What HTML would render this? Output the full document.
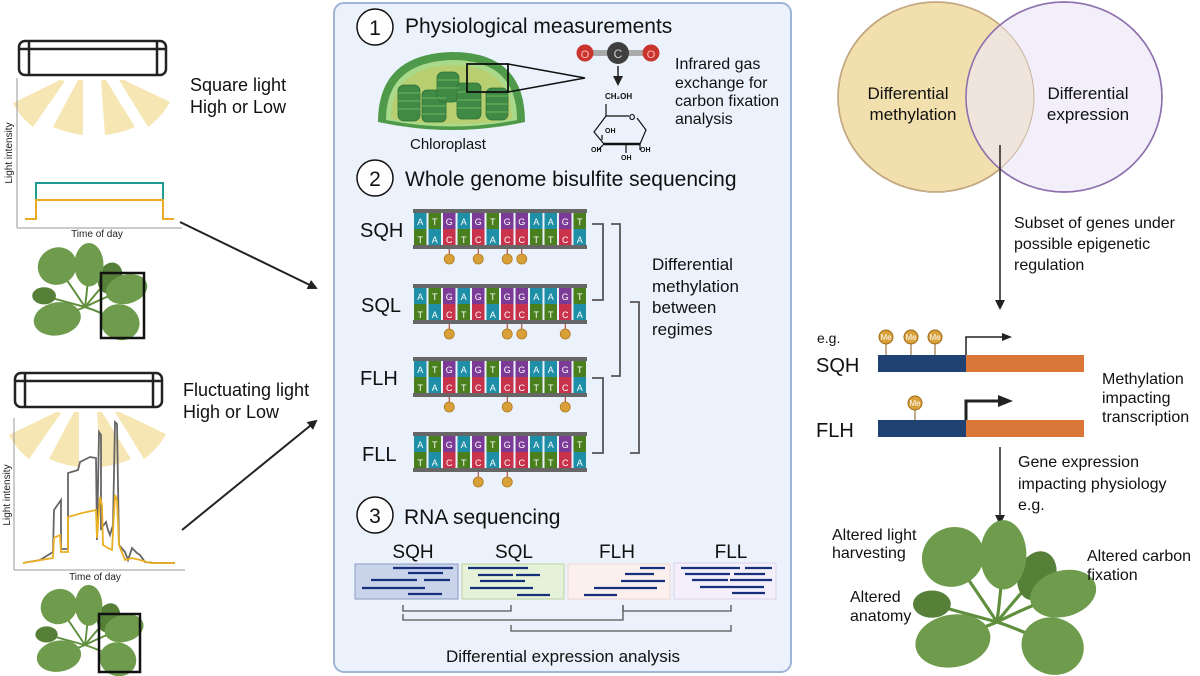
<!DOCTYPE html>
<html><head><meta charset="utf-8"><style>
html,body{margin:0;padding:0;background:#fff;}
svg{display:block;font-family:"Liberation Sans",sans-serif;}
</style></head><body>
<svg width="1200" height="676" viewBox="0 0 1200 676" xmlns="http://www.w3.org/2000/svg">
<defs>
<marker id="ah" markerWidth="10" markerHeight="10" refX="8" refY="5" orient="auto" markerUnits="userSpaceOnUse"><path d="M0,0 L10,5 L0,10 Z" fill="#222"/></marker>
<g id="plant">
 <g stroke="#5f8f3c" stroke-width="3" fill="none">
  <path d="M0,0 Q-20,-30 -42,-62"/><path d="M0,0 Q4,-30 6,-64"/><path d="M0,0 Q20,-25 38,-44"/>
  <path d="M0,0 Q30,-15 63,-27"/><path d="M0,0 Q-30,-8 -62,-17"/><path d="M0,0 Q-20,8 -42,18"/><path d="M0,0 Q25,8 53,23"/>
 </g>
 <ellipse cx="-42" cy="-62" rx="30" ry="28" transform="rotate(-30 -42 -62)" fill="#6e9c4c"/>
 <ellipse cx="38" cy="-44" rx="18" ry="24" transform="rotate(20 38 -44)" fill="#567f38"/>
 <ellipse cx="6" cy="-64" rx="22" ry="33" fill="#6e9c4c"/>
 <ellipse cx="63" cy="-27" rx="32" ry="22" transform="rotate(-15 63 -27)" fill="#6e9c4c"/>
 <ellipse cx="-62" cy="-17" rx="18" ry="13" fill="#567f38"/>
 <ellipse cx="-42" cy="18" rx="36" ry="25" transform="rotate(-10 -42 18)" fill="#6e9c4c"/>
 <ellipse cx="53" cy="23" rx="30" ry="27" transform="rotate(20 53 23)" fill="#6e9c4c"/>
</g>
<g id="rays" fill="#f5e2a6" opacity="0.85">
 <path d="M60,80 L65,81 L33,127 Q20,117 13,103 Z"/>
 <path d="M78,80 L83,80 L83,135 Q67,133 53,127 Z"/>
 <path d="M101,80 L106,80 L135,127 Q121,133 105,135 Z"/>
 <path d="M119,80 L124,80 L170,102 Q162,117 148,127 Z"/>
</g>
</defs>

<!-- LEFT TOP -->
<g stroke="#222" stroke-width="2.5" fill="none">
 <rect x="19" y="41" width="147" height="34" rx="6"/>
 <line x1="29" y1="41" x2="29" y2="75"/><line x1="157" y1="41" x2="157" y2="75"/>
 <line x1="19" y1="49" x2="166" y2="49"/>
</g>
<use href="#rays"/>
<g stroke="#999" stroke-width="1" fill="none"><line x1="17" y1="78" x2="17" y2="228"/><line x1="17" y1="228" x2="182" y2="228"/></g>
<path d="M36,200 L36,183 L163,183 L163,200" stroke="#1e9a92" stroke-width="2" fill="none"/>
<path d="M25,219 L36,219 L36,200 L163,200 L163,219 L174,219" stroke="#eaaa24" stroke-width="2" fill="none"/>
<text transform="translate(12,153) rotate(-90)" font-size="10" text-anchor="middle" fill="#222">Light intensity</text>
<text x="97" y="237" font-size="10" text-anchor="middle" fill="#222">Time of day</text>
<use href="#plant" transform="translate(85,307) scale(0.66)"/>
<rect x="101" y="273" width="43" height="65" fill="none" stroke="#111" stroke-width="2.5"/>
<text x="190" y="91" font-size="18" fill="#111">Square light</text>
<text x="190" y="113" font-size="18" fill="#111">High or Low</text>
<line x1="180" y1="222" x2="316" y2="288" stroke="#222" stroke-width="2" marker-end="url(#ah)"/>

<!-- LEFT BOTTOM -->
<g stroke="#222" stroke-width="2.5" fill="none">
 <rect x="15" y="373" width="147" height="34" rx="6"/>
 <line x1="25" y1="373" x2="25" y2="407"/><line x1="153" y1="373" x2="153" y2="407"/>
 <line x1="15" y1="381" x2="162" y2="381"/>
</g>
<use href="#rays" transform="translate(-4,332)"/>
<g stroke="#999" stroke-width="1" fill="none"><line x1="14" y1="418" x2="14" y2="570"/><line x1="14" y1="570" x2="185" y2="570"/></g>
<polyline fill="none" stroke="#666" stroke-width="1.8" points="23,563 40,560 53,552 54,510 61,500 61,549 68,549 68,473 78,470 80,462 90,457 96,458 97,540 99,432 101,435 101,530 103,526 106,522 108,530 110,535 113,525 115,422 117,424 119,545 125,552 128,560 132,548 137,553 140,555 145,562 155,563 175,563"/>
<polyline fill="none" stroke="#eab021" stroke-width="1.8" points="23,563 53,558 54,538 60,535 61,552 68,552 68,517 82,513 96,510 97,538 100,497 102,505 103,545 108,548 112,550 115,495 117,500 119,545 125,560 132,558 140,560 150,563 175,563"/>
<text transform="translate(10,495) rotate(-90)" font-size="10" text-anchor="middle" fill="#222">Light intensity</text>
<text x="95" y="580" font-size="10" text-anchor="middle" fill="#222">Time of day</text>
<use href="#plant" transform="translate(85,645) scale(0.62)"/>
<rect x="99" y="614" width="41" height="58" fill="none" stroke="#111" stroke-width="2.5"/>
<text x="183" y="396" font-size="18" fill="#111">Fluctuating  light</text>
<text x="183" y="418" font-size="18" fill="#111">High or Low</text>
<line x1="182" y1="530" x2="316" y2="421" stroke="#222" stroke-width="2" marker-end="url(#ah)"/>

<!-- CENTER PANEL -->
<rect x="334" y="3" width="457" height="669" rx="10" fill="#ebf2fb" stroke="#9fb5d8" stroke-width="2"/>
<circle cx="375" cy="27" r="18" fill="#fff" stroke="#111" stroke-width="1.5"/>
<text x="375" y="35" font-size="21" text-anchor="middle" fill="#111">1</text>
<text x="405" y="33" font-size="21" fill="#111">Physiological measurements</text>
<path d="M378,122 Q378,54 452,52 Q525,52 525,122 Q452,138 378,122Z" fill="#4e9a4a"/>
<path d="M386,120 Q386,62 452,60 Q517,60 517,120 Q452,133 386,120Z" fill="#a9d98a"/>
<path d="M391,119 Q391,67 452,65 Q512,65 512,119 Q452,129 391,119Z" fill="#b7cf71"/>
<g fill="#3f8a45" stroke="#2f6d36" stroke-width="0.8">
 <rect x="398" y="85" width="22" height="36" rx="6"/>
 <rect x="422" y="90" width="24" height="32" rx="5"/>
 <rect x="437" y="72" width="22" height="30" rx="6"/>
 <rect x="457" y="83" width="24" height="36" rx="5"/>
 <rect x="486" y="88" width="22" height="32" rx="6"/>
</g>
<g stroke="#6fb55f" stroke-width="1">
 <line x1="398" y1="93" x2="420" y2="93"/><line x1="398" y1="101" x2="420" y2="101"/><line x1="398" y1="109" x2="420" y2="109"/>
 <line x1="422" y1="98" x2="446" y2="98"/><line x1="422" y1="106" x2="446" y2="106"/><line x1="422" y1="114" x2="446" y2="114"/>
 <line x1="457" y1="92" x2="481" y2="92"/><line x1="457" y1="100" x2="481" y2="100"/><line x1="457" y1="108" x2="481" y2="108"/>
 <line x1="486" y1="96" x2="508" y2="96"/><line x1="486" y1="104" x2="508" y2="104"/><line x1="486" y1="112" x2="508" y2="112"/>
 <line x1="437" y1="80" x2="459" y2="80"/><line x1="437" y1="88" x2="459" y2="88"/>
</g>
<rect x="467" y="64" width="41" height="28" fill="none" stroke="#111" stroke-width="1.8"/>
<path d="M508,64 L585,78 L508,92" fill="none" stroke="#111" stroke-width="1.5"/>
<text x="410" y="149" font-size="15" fill="#111">Chloroplast</text>
<rect x="585" y="50" width="66" height="6" fill="#aaa"/>
<circle cx="585" cy="53" r="8.5" fill="#c9342d"/><circle cx="651" cy="53" r="8.5" fill="#c9342d"/>
<circle cx="618" cy="53" r="11" fill="#3f3f3f"/>
<text x="585" y="58" font-size="11" text-anchor="middle" fill="#fbb">O</text>
<text x="651" y="58" font-size="11" text-anchor="middle" fill="#fbb">O</text>
<text x="618" y="58" font-size="12" text-anchor="middle" fill="#ccc">C</text>
<line x1="618" y1="66" x2="618" y2="84" stroke="#222" stroke-width="1.5" marker-end="url(#ah)"/>
<text x="605" y="99" font-size="8" font-weight="bold" fill="#111">CH₂OH</text>
<path d="M606,104 L606,116 L629,116 M637,118 L646,130 L640,144 L604,144 L594,132 L606,116 M604,144 L598,150 M640,144 L640,150 M626,144 L626,153 M602,135 L602,140" fill="none" stroke="#111" stroke-width="1.2"/>
<line x1="604" y1="144" x2="640" y2="144" stroke="#111" stroke-width="2.5"/>
<text x="629" y="120" font-size="8" font-weight="bold" fill="#111">O</text>
<text x="605" y="133" font-size="7" font-weight="bold" fill="#111">OH</text>
<text x="591" y="152" font-size="7" font-weight="bold" fill="#111">OH</text>
<text x="640" y="152" font-size="7" font-weight="bold" fill="#111">OH</text>
<text x="621" y="160" font-size="7" font-weight="bold" fill="#111">OH</text>
<g font-size="16" fill="#111"><text x="675" y="69">Infrared gas</text><text x="675" y="88">exchange for</text><text x="675" y="106">carbon fixation</text><text x="675" y="124">analysis</text></g>

<circle cx="375" cy="178" r="18" fill="#fff" stroke="#111" stroke-width="1.5"/>
<text x="375" y="186" font-size="21" text-anchor="middle" fill="#111">2</text>
<text x="405" y="186" font-size="21" fill="#111">Whole genome bisulfite sequencing</text>
<g id="dnaall"></g>
<script>
(function(){
var ns="http://www.w3.org/2000/svg",root=document.getElementById("dnaall");
var top="ATGAGTGGAAGT",bot="TACTCACCTTCA",col={A:"#1f8fa8",T:"#4a7f1e",G:"#7b3a96",C:"#c8324a"};
var rows=[[210,[2,4,6,7]],[285,[2,6,7,10]],[358,[2,6,10]],[433,[4,6]]];
function el(t,a){var e=document.createElementNS(ns,t);for(var k in a)e.setAttribute(k,a[k]);root.appendChild(e);return e;}
rows.forEach(function(r){var y=r[0];
 for(var i=0;i<12;i++){var x=413+i*14.5+1;
  el("rect",{x:x,y:y+3,width:12.5,height:16,fill:col[top[i]]});
  el("rect",{x:x,y:y+19,width:12.5,height:16,fill:col[bot[i]]});
  var t=el("text",{x:x+6.25,y:y+15,"font-size":9,"text-anchor":"middle",fill:"#fff"});t.textContent=top[i];
  var b=el("text",{x:x+6.25,y:y+33,"font-size":9,"text-anchor":"middle",fill:"#fff"});b.textContent=bot[i];}
 el("rect",{x:413,y:y-1,width:174,height:4,fill:"#666"});
 el("rect",{x:413,y:y+35,width:174,height:4,fill:"#666"});
 r[1].forEach(function(i){var cx=413+i*14.5+7.25;
  el("line",{x1:cx,y1:y+39,x2:cx,y2:y+44,stroke:"#a03020","stroke-width":1});
  el("circle",{cx:cx,cy:y+49,r:5,fill:"#d9a03a",stroke:"#b07a20","stroke-width":0.8});});
});
})();
</script>
<g font-size="20" fill="#111">
<text x="360" y="237">SQH</text><text x="361" y="312">SQL</text><text x="360" y="385">FLH</text><text x="362" y="461">FLL</text>
</g>
<g fill="none" stroke="#555" stroke-width="1.8">
 <path d="M592,224 H603 V300 H592"/>
 <path d="M611,224 H620 V376 H611"/>
 <path d="M592,378 H603 V453 H592"/>
 <path d="M630,302 H639 V453 H630"/>
</g>
<g font-size="17" fill="#111"><text x="652" y="270">Differential</text><text x="652" y="292">methylation</text><text x="652" y="313">between</text><text x="652" y="335">regimes</text></g>

<circle cx="375" cy="515" r="18" fill="#fff" stroke="#111" stroke-width="1.5"/>
<text x="375" y="523" font-size="21" text-anchor="middle" fill="#111">3</text>
<text x="404" y="524" font-size="21" fill="#111">RNA sequencing</text>
<g font-size="19" fill="#111" text-anchor="middle"><text x="413" y="558">SQH</text><text x="514" y="558">SQL</text><text x="617" y="558">FLH</text><text x="731" y="558">FLL</text></g>
<rect x="355" y="564" width="103" height="35" fill="#c9d3ea" stroke="#8a9cc0"/>
<rect x="462" y="564" width="102" height="35" fill="#e6f2d8" stroke="#b9d2a0"/>
<rect x="568" y="564" width="102" height="35" fill="#fcf0ee" stroke="#ecd6d3"/>
<rect x="674" y="563" width="102" height="36" fill="#f4effa" stroke="#ddd3ea"/>
<g stroke="#17307c" stroke-width="2.2">
 <line x1="393" y1="568" x2="453" y2="568"/><line x1="408" y1="573" x2="443" y2="573"/><line x1="371" y1="580" x2="417" y2="580"/><line x1="424" y1="580" x2="450" y2="580"/><line x1="362" y1="588" x2="425" y2="588"/><line x1="408" y1="594" x2="442" y2="594"/>
 <line x1="468" y1="568" x2="528" y2="568"/><line x1="478" y1="575" x2="513" y2="575"/><line x1="516" y1="575" x2="540" y2="575"/><line x1="480" y1="581" x2="525" y2="581"/><line x1="470" y1="588" x2="533" y2="588"/><line x1="517" y1="595" x2="550" y2="595"/>
 <line x1="640" y1="568" x2="665" y2="568"/><line x1="625" y1="574" x2="654" y2="574"/><line x1="621" y1="581" x2="665" y2="581"/><line x1="594" y1="588" x2="657" y2="588"/><line x1="584" y1="595" x2="617" y2="595"/>
 <line x1="681" y1="568" x2="740" y2="568"/><line x1="745" y1="568" x2="772" y2="568"/><line x1="685" y1="574" x2="730" y2="574"/><line x1="734" y1="574" x2="765" y2="574"/><line x1="692" y1="580" x2="728" y2="580"/><line x1="730" y1="580" x2="772" y2="580"/><line x1="700" y1="587" x2="764" y2="587"/><line x1="732" y1="593" x2="765" y2="593"/>
</g>
<g fill="none" stroke="#555" stroke-width="1.3">
 <path d="M403,605 V611 H511 V605"/>
 <path d="M403,614 V620 H623 V605"/>
 <path d="M623,605 V611 H731 V605"/>
 <path d="M511,625 V631 H731 V625"/>
</g>
<text x="563" y="662" font-size="17" text-anchor="middle" fill="#111">Differential expression analysis</text>

<!-- RIGHT -->
<ellipse cx="936" cy="97" rx="98" ry="95" fill="#f1dfae" stroke="#a57838" stroke-width="1.5"/>
<ellipse cx="1064" cy="97" rx="98" ry="95" fill="#f2eefa" stroke="#8e70ad" stroke-width="1.5"/>
<clipPath id="cl"><ellipse cx="936" cy="97" rx="98" ry="95"/></clipPath>
<ellipse cx="1064" cy="97" rx="98" ry="95" fill="#efe5dc" clip-path="url(#cl)"/>
<ellipse cx="936" cy="97" rx="98" ry="95" fill="none" stroke="#c9b39a" stroke-width="1"/>
<ellipse cx="1064" cy="97" rx="98" ry="95" fill="none" stroke="#8e70ad" stroke-width="1.5"/>
<g font-size="17" fill="#111" text-anchor="middle"><text x="908" y="99">Differential</text><text x="913" y="120">methylation</text><text x="1088" y="99">Differential</text><text x="1088" y="120">expression</text></g>
<line x1="1000" y1="145" x2="1000" y2="308" stroke="#222" stroke-width="1.5" marker-end="url(#ah)"/>
<g font-size="16" fill="#111"><text x="1014" y="228">Subset of genes under</text><text x="1014" y="249">possible epigenetic</text><text x="1014" y="270">regulation</text></g>
<text x="817" y="343" font-size="14" fill="#111">e.g.</text>
<text x="816" y="372" font-size="20" fill="#111">SQH</text>
<text x="816" y="437" font-size="20" fill="#111">FLH</text>
<rect x="878" y="355" width="88" height="17" fill="#1f4272"/><rect x="966" y="355" width="118" height="17" fill="#d97638"/>
<rect x="878" y="420" width="88" height="17" fill="#1f4272"/><rect x="966" y="420" width="118" height="17" fill="#d97638"/>
<g stroke="#8a5a20" stroke-width="1"><line x1="886" y1="343" x2="886" y2="355"/><line x1="911" y1="343" x2="911" y2="355"/><line x1="935" y1="343" x2="935" y2="355"/><line x1="915" y1="410" x2="915" y2="420"/></g>
<g fill="#d9a03a" stroke="#a06a18" stroke-width="1">
<circle cx="886" cy="337" r="7"/><circle cx="911" cy="337" r="7"/><circle cx="935" cy="337" r="7"/><circle cx="915" cy="403" r="7"/></g>
<g font-size="8" fill="#fff" text-anchor="middle"><text x="886" y="340">Me</text><text x="911" y="340">Me</text><text x="935" y="340">Me</text><text x="915" y="406">Me</text></g>
<path d="M966,355 V337 H1004" fill="none" stroke="#222" stroke-width="1.5"/><path d="M1002,333 L1012,337 L1002,341Z" fill="#222"/>
<path d="M966,420 V401 H1000" fill="none" stroke="#222" stroke-width="3"/><path d="M998,395 L1013,401 L998,407Z" fill="#222"/>
<g font-size="16" fill="#111"><text x="1102" y="384">Methylation</text><text x="1102" y="403">impacting</text><text x="1102" y="422">transcription</text></g>
<line x1="1000" y1="447" x2="1000" y2="523" stroke="#222" stroke-width="1.5" marker-end="url(#ah)"/>
<g font-size="16" fill="#111"><text x="1018" y="467">Gene expression</text><text x="1018" y="489">impacting physiology</text><text x="1018" y="510">e.g.</text></g>
<use href="#plant" transform="translate(997,622) scale(1.05)"/>
<g font-size="16" fill="#111"><text x="832" y="540">Altered light</text><text x="832" y="558">harvesting</text><text x="1087" y="561">Altered carbon</text><text x="1087" y="580">fixation</text><text x="850" y="602">Altered</text><text x="850" y="621">anatomy</text></g>
</svg>
</body></html>
